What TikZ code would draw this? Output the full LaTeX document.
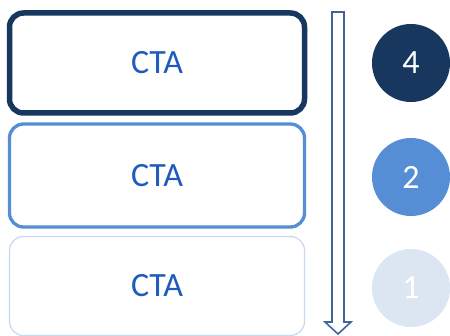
\documentclass[tikz,border=0pt]{standalone}
\usepackage{fontspec}
\setmainfont{Carlito}
\usetikzlibrary{calc}
\definecolor{navy}{HTML}{17375E}
\definecolor{midblue}{HTML}{558ED5}
\definecolor{paleblue}{HTML}{C6D9F1}
\definecolor{paledisc}{HTML}{DCE6F2}
\definecolor{ctatext}{HTML}{1F5BBE}
\definecolor{arrowline}{HTML}{41659A}
\begin{document}
\begin{tikzpicture}[x=1pt,y=-1pt,
  ctabox/.style={draw, rounded corners=14pt, fill=white, minimum width=295pt,
    inner sep=0pt, font=\fontsize{34}{34}\selectfont, text=ctatext},
  disc/.style={circle, minimum size=78pt, inner sep=0pt, text=white,
    font=\fontsize{34}{34}\selectfont}]
\useasboundingbox (0,0) rectangle (450,336);
% three option boxes, strongest at the top
\node[ctabox, draw=navy, line width=5.5pt, minimum height=100pt] (b1) at (157,63) {CTA};
\node[ctabox, draw=midblue, line width=3.3pt, minimum height=103pt] (b2) at (157,175.5) {CTA};
\node[ctabox, draw=paleblue, line width=1.2pt, minimum height=99pt] (b3) at (157,286) {CTA};
% ranking discs
\node[disc, fill=navy] (c1) at (411,63) {4};
\node[disc, fill=midblue] (c2) at (411,177) {2};
\node[disc, fill=paledisc] (c3) at (411,288) {1};
% hollow downward arrow
\coordinate (atop) at (338,12);
\coordinate (atip) at (338,334);
\draw[arrowline, line width=1.6pt, fill=white, line join=miter]
  ($(atop)+(-6,0)$) -- ($(atop)+(6,0)$) -- ($(atip)+(6,-12)$) -- ($(atip)+(13,-12)$)
  -- (atip) -- ($(atip)+(-13,-12)$) -- ($(atip)+(-6,-12)$) -- cycle;
\end{tikzpicture}
\end{document}
